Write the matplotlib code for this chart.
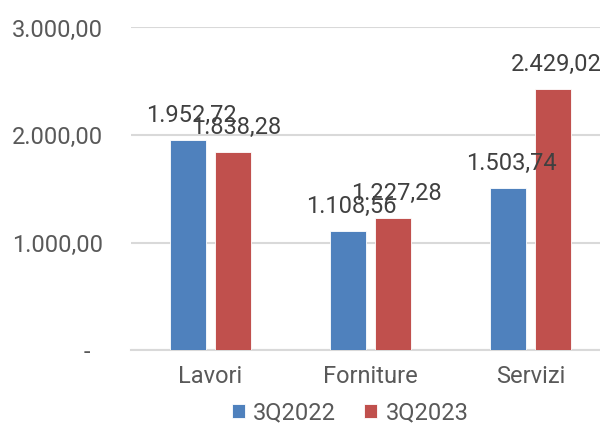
import matplotlib
matplotlib.use("Agg")
import matplotlib.pyplot as plt
import numpy as np

categories = ["Lavori", "Forniture", "Servizi"]
series_names = ["3Q2022", "3Q2023"]
values_2022 = [1952.72, 1108.56, 1503.74]
values_2023 = [1838.28, 1227.28, 2429.02]
yticks = [0, 1000, 2000, 3000]
ytick_labels = ["-  ", "1.000,00", "2.000,00", "3.000,00"]

colors = ["#4F81BD", "#C0504D"]
text_col = "#595959"

plt.rcParams['font.family'] = ['Roboto', 'DejaVu Sans']

def fmt(v):
    s = f"{v:,.2f}"
    return s.replace(",", "X").replace(".", ",").replace("X", ".")

fig = plt.figure(figsize=(6, 4.23), dpi=100)
ax = fig.add_axes([130.5 / 600, 1 - 350 / 423, 480 / 600, 322.5 / 423])

x = np.arange(len(categories))
w = 0.225
off = 0.1406
for i, vals in enumerate([values_2022, values_2023]):
    pos = x + (-off if i == 0 else off)
    bars = ax.bar(pos, vals, width=w, color=colors[i], edgecolor="white",
                  linewidth=0.6, label=series_names[i], zorder=3)
    for b, v in zip(bars, vals):
        ax.annotate(fmt(v), (b.get_x() + b.get_width() / 2 + 0.02, v),
                    xytext=(0, 13), textcoords="offset points",
                    ha="center", va="baseline", fontsize=17, color="#404040",
                    annotation_clip=False, zorder=4)

ax.set_xlim(-0.5, 2.5)
ax.set_ylim(0, 3000)
ax.set_yticks(yticks)
ax.set_yticklabels(ytick_labels)
ax.set_xticks(x)
ax.set_xticklabels(categories)
ax.tick_params(axis="y", length=0, pad=20, labelsize=17, labelcolor=text_col)
ax.tick_params(axis="x", length=0, pad=11, labelsize=17, labelcolor=text_col)
ax.grid(axis="y", color="#D9D9D9", linewidth=1.5, zorder=0)
for s in ["top", "right", "left"]:
    ax.spines[s].set_visible(False)
ax.spines["bottom"].set_color("#D9D9D9")
ax.spines["bottom"].set_linewidth(1.5)

leg = fig.legend(loc="center", bbox_to_anchor=(350 / 600, 1 - 413 / 423),
                 ncol=2, frameon=False, fontsize=17, handlelength=0.55,
                 handleheight=0.55, handletextpad=0.35, columnspacing=1.2,
                 borderaxespad=0, borderpad=0)
for t in leg.get_texts():
    t.set_color(text_col)

fig.savefig("out.png", dpi=100)
